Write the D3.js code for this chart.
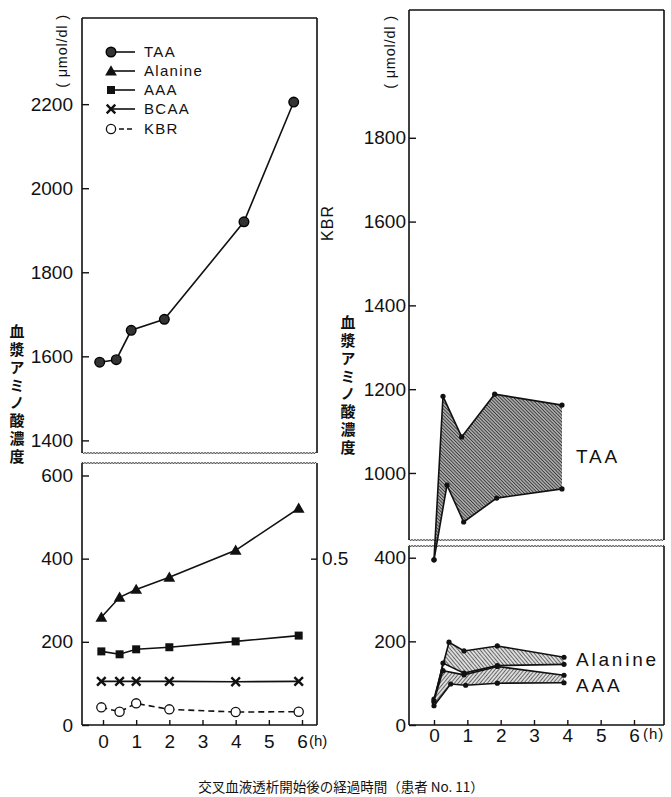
<!DOCTYPE html>
<html>
<head>
<meta charset="utf-8">
<script src="https://cdn.jsdelivr.net/npm/d3@7"></script>
<style>
  body { margin: 0; background: #fff; }
  svg { display: block; }
</style>
</head>
<body>
<script>
// ---- data ----
const hourTicks = [0, 1, 2, 3, 4, 5, 6];
const hoursLeft = [-0.05, 0.5, 1, 2, 4, 5.9];
const taaHoursLeft = [-0.1, 0.4, 0.85, 1.85, 4.25, 5.75];
const taaLeft = [1586, 1592, 1662, 1688, 1920, 2205];
const alanineLeft = [259, 307, 326, 355, 420, 521];
const aaaLeft = [177, 170, 182, 187, 201, 215];
const bcaaLeft = [105, 105, 105, 105, 104, 105];
const kbrLeft = [0.053, 0.040, 0.065, 0.047, 0.039, 0.040];

// right panel: ranges (upper / lower edge of each band)
const taaUpperHours = [0, 0.27, 0.83, 1.82, 3.84];
const taaUpper = [395, 1183, 1086, 1188, 1162];
const taaLowerHours = [0, 0.39, 0.89, 1.88, 3.84];
const taaLower = [395, 971, 883, 940, 962];
const alaUpperHours = [0, 0.45, 0.9, 1.9, 3.9];
const alaUpper = [62, 198, 177, 189, 162];
const alaLowerHours = [0, 0.27, 0.9, 1.9, 3.9];
const alaLower = [55, 148, 124, 142, 145];
const aaaUpperHours = [0, 0.27, 0.9, 1.9, 3.9];
const aaaUpper = [58, 130, 120, 140, 119];
const aaaLowerHours = [0, 0.5, 0.95, 1.9, 3.9];
const aaaLower = [46, 98, 95, 100, 101];

const leftTopTicks = [1400, 1600, 1800, 2000, 2200];
const leftBotTicks = [0, 200, 400, 600];
const rightTopTicks = [1000, 1200, 1400, 1600, 1800];
const rightBotTicks = [0, 200, 400];
const kbrTicks = [0.5];

const legendNames = ["TAA", "Alanine", "AAA", "BCAA", "KBR"];
const yLabel = "血漿アミノ酸濃度";
const unitLabel = "( μmol/dl )";
const caption = "交叉血液透析開始後の経過時間（患者 No. 11）";

// ---- layout ----
const W = 671, H = 797;
const numFont = "'Liberation Sans', Arial, Helvetica, sans-serif";
const jpFont = "'Noto Sans CJK JP', sans-serif";

const svg = d3.select("body").append("svg")
    .attr("width", W).attr("height", H)
    .attr("viewBox", [0, 0, W, H]);

const defs = svg.append("defs");
function hatch(id, angle, gap, sw, bg) {
    const p = defs.append("pattern").attr("id", id)
        .attr("patternUnits", "userSpaceOnUse")
        .attr("width", gap).attr("height", gap)
        .attr("patternTransform", `rotate(${angle})`);
    p.append("rect").attr("width", gap).attr("height", gap).attr("fill", bg);
    p.append("line").attr("x1", 0).attr("y1", 0).attr("x2", 0).attr("y2", gap)
        .attr("stroke", "#111").attr("stroke-width", sw);
}
hatch("hTAA", -45, 2.4, 1.2, "#a8a8a8");
hatch("hAla", -40, 2.8, 1.1, "#dcdcdc");
hatch("hAAA", 40, 2.8, 1.1, "#dcdcdc");

// wavy break line
function wavy(g, x0, x1, y) {
    const pts = d3.range(x0, x1 + 0.1, 1.5).map((x, i) => [x, y + (i % 2 ? 1.1 : -1.1)]);
    g.append("path").attr("d", d3.line().curve(d3.curveBasis)(pts))
        .attr("fill", "none").attr("stroke", "#111").attr("stroke-width", 1);
}

function yAxis(g, scale, ticks, x, pad) {
    const a = g.append("g").attr("transform", `translate(${x},0)`)
        .call(d3.axisLeft(scale).tickValues(ticks).tickSize(-7).tickPadding(pad).tickFormat(d3.format("d")));
    a.select(".domain").remove();
    a.selectAll("line").attr("stroke", "#111").attr("stroke-width", 1.4);
    a.selectAll("text").attr("font-family", numFont).attr("font-size", 19).attr("fill", "#111");
}

function xAxis(g, scale, y, pad) {
    const a = g.append("g").attr("transform", `translate(0,${y})`)
        .call(d3.axisBottom(scale).tickValues(hourTicks).tickSize(-5).tickPadding(pad).tickFormat(d3.format("d")));
    a.select(".domain").remove();
    a.selectAll("line").attr("stroke", "#111").attr("stroke-width", 1.4);
    a.selectAll("text").attr("font-family", numFont).attr("font-size", 19).attr("fill", "#111");
}

function frame(g, x0, x1, y0, y1, topWavy, bottomWavy) {
    const p = d3.path();
    p.moveTo(x0, y0); p.lineTo(x0, y1);
    p.moveTo(x1, y0); p.lineTo(x1, y1);
    if (!topWavy) { p.moveTo(x0, y0); p.lineTo(x1, y0); }
    if (!bottomWavy) { p.moveTo(x0, y1); p.lineTo(x1, y1); }
    g.append("path").attr("d", p.toString()).attr("fill", "none")
        .attr("stroke", "#111").attr("stroke-width", 1.6);
    if (topWavy) wavy(g, x0, x1, y0);
    if (bottomWavy) wavy(g, x0, x1, y1);
}

// one vertical text (upright characters stacked top to bottom)
function verticalJp(g, x, yTop) {
    g.append("text").attr("x", x).attr("y", yTop)
        .style("writing-mode", "vertical-rl").style("text-orientation", "upright")
        .attr("letter-spacing", 2.8)
        .attr("font-family", jpFont).attr("font-size", 15).attr("font-weight", 700)
        .attr("fill", "#111").text(yLabel);
}

function rotLabel(g, x, y, text, size, spacing) {
    g.append("text").attr("transform", `translate(${x},${y}) rotate(-90)`)
        .attr("text-anchor", "middle").attr("dy", "0.35em")
        .attr("font-family", numFont).attr("font-size", size)
        .attr("letter-spacing", spacing).attr("fill", "#111").text(text);
}

// ================= LEFT PANEL =================
const L = { x0: 82, x1: 317, top: 18, brk1: 453, brk2: 463, bottom: 725 };
const gl = svg.append("g");

const xL = d3.scaleLinear().domain([0, 6]).range([103, 302]);
const yLT = d3.scaleLinear().domain([1370, 2405]).range([L.brk1, L.top]);
const yLB = d3.scaleLinear().domain([0, 630]).range([L.bottom, L.brk2]);
const yKbr = d3.scaleLinear().domain([0, 0.5]).range([yLB(0), yLB(400)]);

frame(gl, L.x0, L.x1, L.top, L.brk1, false, true);
frame(gl, L.x0, L.x1, L.brk2, L.bottom, true, false);
yAxis(gl, yLT, leftTopTicks, L.x0, 9);
yAxis(gl, yLB, leftBotTicks, L.x0, 9);
xAxis(gl, xL, L.bottom, 10);

// right KBR axis
const ka = gl.append("g").attr("transform", `translate(${L.x1},0)`)
    .call(d3.axisRight(yKbr).tickValues(kbrTicks).tickSize(-6).tickPadding(5).tickFormat(d3.format(".1f")));
ka.select(".domain").remove();
ka.selectAll("line").attr("stroke", "#111").attr("stroke-width", 1.4);
ka.selectAll("text").attr("font-family", numFont).attr("font-size", 19).attr("fill", "#111");
rotLabel(gl, 327, 223, "KBR", 16, 1);

rotLabel(gl, 62, 51, unitLabel, 14.5, 0.8);
verticalJp(gl, 17, 324);
gl.append("text").attr("x", 309).attr("y", 746).attr("font-family", numFont)
    .attr("font-size", 15).attr("fill", "#111").text("(h)");

const lineStroke = (sel) => sel.attr("fill", "none").attr("stroke", "#111").attr("stroke-width", 1.6);

function series(g, hs, vals, yScale, dashed) {
    const pts = hs.map((h, i) => [xL(h), yScale(vals[i])]);
    const p = g.append("path").attr("d", d3.line()(pts)).call(lineStroke);
    if (dashed) p.attr("stroke-dasharray", "6,4");
    return pts;
}

const taaPts = series(gl, taaHoursLeft, taaLeft, yLT);
const alaPts = series(gl, hoursLeft, alanineLeft, yLB);
const aaaPts = series(gl, hoursLeft, aaaLeft, yLB);
const bcaaPts = series(gl, hoursLeft, bcaaLeft, yLB);
const kbrPts = series(gl, hoursLeft, kbrLeft, yKbr, true);

function marker(g, type, x, y) {
    if (type === "circle") {
        g.append("circle").attr("cx", x).attr("cy", y).attr("r", 4.8)
            .attr("fill", "#333").attr("stroke", "#000").attr("stroke-width", 1.4);
    } else if (type === "open") {
        g.append("circle").attr("cx", x).attr("cy", y).attr("r", 4.6)
            .attr("fill", "#fff").attr("stroke", "#111").attr("stroke-width", 1.3);
    } else if (type === "tri") {
        g.append("path").attr("transform", `translate(${x},${y + 1})`)
            .attr("d", d3.symbol(d3.symbolTriangle, 60)()).attr("fill", "#111");
    } else if (type === "square") {
        g.append("path").attr("transform", `translate(${x},${y})`)
            .attr("d", d3.symbol(d3.symbolSquare, 64)()).attr("fill", "#111");
    } else if (type === "cross") {
        g.append("path").attr("transform", `translate(${x},${y})`)
            .attr("d", d3.symbol(d3.symbolTimes, 50)())
            .attr("fill", "none").attr("stroke", "#111").attr("stroke-width", 2.4);
    }
}

taaPts.forEach(p => marker(gl, "circle", p[0], p[1]));
alaPts.forEach(p => marker(gl, "tri", p[0], p[1]));
aaaPts.forEach(p => marker(gl, "square", p[0], p[1]));
bcaaPts.forEach(p => marker(gl, "cross", p[0], p[1]));
kbrPts.forEach(p => marker(gl, "open", p[0], p[1]));

// legend
const legendTypes = ["circle", "tri", "square", "cross", "open"];
const legendY = [52, 71, 90, 109, 129];
legendNames.forEach((name, i) => {
    const y = legendY[i];
    const ln = gl.append("line").attr("x1", 111).attr("x2", 135).attr("y1", y).attr("y2", y).call(lineStroke);
    if (i === 4) ln.attr("stroke-dasharray", "5,3");
    marker(gl, legendTypes[i], 111, y);
    gl.append("text").attr("x", 144).attr("y", y).attr("dy", "0.36em")
        .attr("font-family", numFont).attr("font-size", 15).attr("letter-spacing", 1.3)
        .attr("fill", "#111").text(name);
});

// ================= RIGHT PANEL =================
const R = { x0: 409, x1: 664, top: 10, brk1: 540, brk2: 546, bottom: 725 };
const gr = svg.append("g");

const xR = d3.scaleLinear().domain([0, 6]).range([434, 634]);
const yRT = d3.scaleLinear().domain([840, 2105]).range([R.brk1, R.top]);
const yRB = d3.scaleLinear().domain([0, 428]).range([R.bottom, R.brk2]);
const yR = v => v > 428 ? yRT(v) : yRB(v);   // broken axis

function band(g, upH, up, loH, lo, fillId) {
    const upPts = upH.map((h, i) => [xR(h), yR(up[i])]);
    const loPts = loH.map((h, i) => [xR(h), yR(lo[i])]);
    g.append("path").attr("d", d3.line()(upPts.concat(loPts.slice().reverse())) + "Z")
        .attr("fill", `url(#${fillId})`).attr("stroke", "none");
    [upPts, loPts].forEach(pts => {
        g.append("path").attr("d", d3.line()(pts)).call(lineStroke);
        pts.forEach(p => g.append("circle").attr("cx", p[0]).attr("cy", p[1]).attr("r", 2.6).attr("fill", "#111"));
    });
}

band(gr, taaUpperHours, taaUpper, taaLowerHours, taaLower, "hTAA");
band(gr, alaUpperHours, alaUpper, alaLowerHours, alaLower, "hAla");
band(gr, aaaUpperHours, aaaUpper, aaaLowerHours, aaaLower, "hAAA");

frame(gr, R.x0, R.x1, R.top, R.brk1, false, true);
frame(gr, R.x0, R.x1, R.brk2, R.bottom, true, false);
yAxis(gr, yRT, rightTopTicks, R.x0, 3);
yAxis(gr, yRB, rightBotTicks, R.x0, 3);
xAxis(gr, xR, R.bottom, 3);

rotLabel(gr, 390, 52, unitLabel, 14.5, 0.8);
verticalJp(gr, 348, 315);
gr.append("text").attr("x", 643).attr("y", 739).attr("font-family", numFont)
    .attr("font-size", 15).attr("letter-spacing", 1).attr("fill", "#111").text("(h)");

const bandLabels = [["TAA", yR(1040)], ["Alanine", yR(157)], ["AAA", yR(95)]];
bandLabels.forEach(([t, y]) => {
    gr.append("text").attr("x", 576).attr("y", y).attr("dy", "0.36em")
        .attr("font-family", numFont).attr("font-size", 19).attr("letter-spacing", 2.8)
        .attr("fill", "#111").text(t);
});

// caption
svg.append("text").attr("x", 341).attr("y", 787).attr("text-anchor", "middle")
    .attr("dy", "0.35em").attr("font-family", jpFont).attr("font-size", 13.5)
    .attr("fill", "#111").text(caption);
</script>
</body>
</html>
